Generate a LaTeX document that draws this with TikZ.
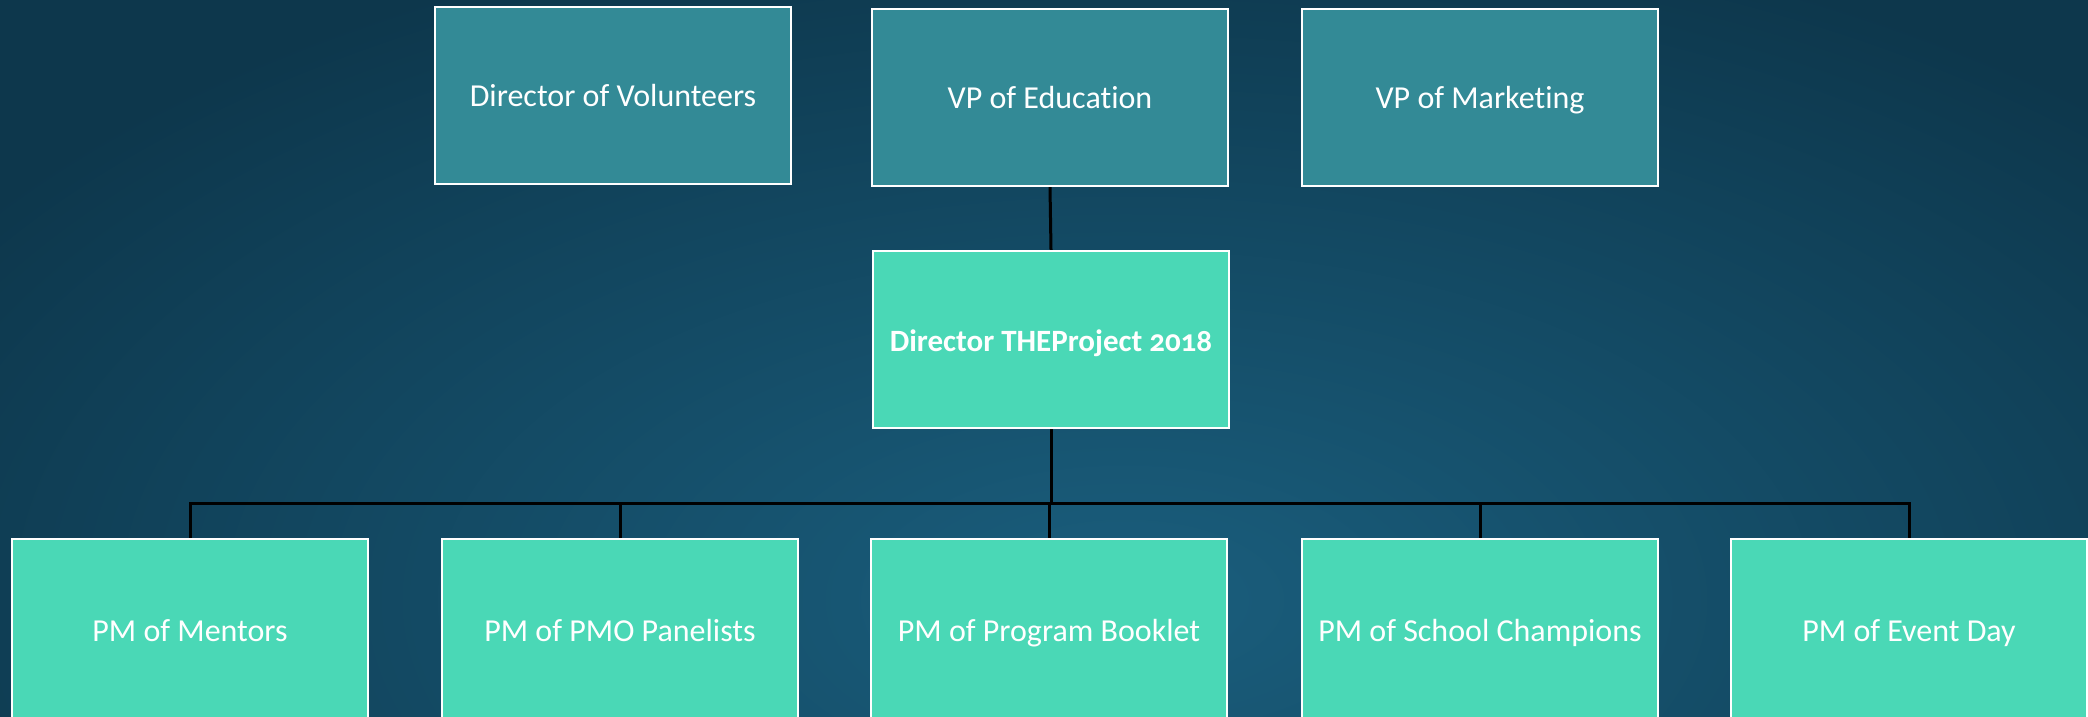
\documentclass[tikz,border=0pt]{standalone}
\usepackage{fontspec}
\setmainfont{Carlito}[Numbers=OldStyle,Ligatures=CommonOff]
\definecolor{bgdark}{HTML}{0D374C}
\definecolor{bglight}{HTML}{1A5E7D}
\definecolor{topteal}{HTML}{338A96}
\definecolor{mint}{HTML}{4AD8B6}

\begin{document}
\begin{tikzpicture}[x=0.5pt,y=-0.5pt,
    box/.style={draw=white,line width=1.2pt,minimum width=178pt,minimum height=88.5pt,
      text=white,font=\fontsize{16}{18}\selectfont,inner sep=2pt,
      text height=15pt,text depth=3.5pt},
    topbox/.style={box,fill=topteal},
    mintbox/.style={box,fill=mint},
    link/.style={draw=black,line width=1.5pt}]
      \useasboundingbox (0,0) rectangle (2088,717);
      \clip (0,0) rectangle (2088,717);
      \shade[inner color=bglight,outer color=bgdark] (-250,-100) rectangle (2500,1300);
      % top row
      \node[topbox] (vol) at (613,95.5) {Director of Volunteers};
      \node[topbox] (edu) at (1050,97.5) {VP of Education};
      \node[topbox] (mkt) at (1480,97.5) {VP of Marketing};
      % director
      \node[mintbox,font=\fontsize{15.5}{18}\selectfont\bfseries] (dir) at (1051,339.5) {Director THEProject 2018};
      \draw[link] (edu.south) -- (dir.north);
      \coordinate (bus) at (1051,503);
      \draw[link] (dir.south) -- (bus);
      % bottom row
      \node[mintbox,minimum height=91pt] (men) at (190,630) {PM of Mentors};
      \node[mintbox,minimum height=91pt] (pan) at (620,630) {PM of PMO Panelists};
      \node[mintbox,minimum height=91pt] (book) at (1049,630) {PM of Program Booklet};
      \node[mintbox,minimum height=91pt] (champ) at (1480,630) {PM of School Champions};
      \node[mintbox,minimum height=91pt] (event) at (1909,630) {PM of Event Day};
      \foreach \n in {men,pan,book,champ,event}
        \draw[link] (\n.north) |- (bus);
    \end{tikzpicture}
\end{document}
